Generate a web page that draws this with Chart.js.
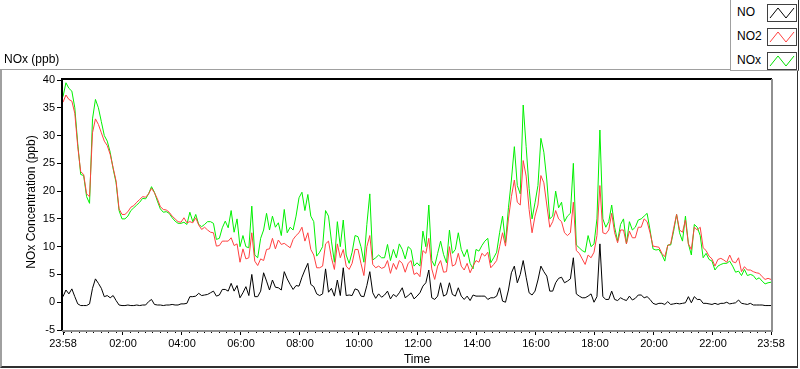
<!DOCTYPE html>
<html>
<head>
<meta charset="utf-8">
<script src="https://cdn.jsdelivr.net/npm/chart.js@4.4.1/dist/chart.umd.min.js"></script>
<style>
  body { margin: 0; background: #fff; }
  #wrap { position: relative; width: 800px; height: 369px; overflow: hidden; background: #fff;
          font-family: "Liberation Sans", Arial, sans-serif; color: #000; }
  #chart { position: absolute; left: 0; top: 0; }
  #panel { position: absolute; left: 0; top: 69px; width: 795px; height: 296px;
           border-top: 1px solid #a0a0a0; border-left: 2px solid #a0a0a0;
           border-right: 1px solid #303030; border-bottom: 2px solid #303030; }
  #legend { position: absolute; left: 730px; top: 0; width: 67px; height: 70px; background: #fff;
            border-left: 1px solid #a0a0a0; border-bottom: 1px solid #a0a0a0; border-right: 1px solid #303030; }
  .item { position: absolute; left: 0; width: 67px; height: 20px; }
  .item span { position: absolute; left: 6px; top: 3px; font-size: 12px; }
  .item svg { position: absolute; left: 36px; top: 2px; }
  #unit { position: absolute; left: 4px; top: 52px; font-size: 12px; }
  #ytitle { position: absolute; left: 31px; top: 202px; font-size: 12px; white-space: nowrap;
            transform: translate(-50%, -50%) rotate(-90deg); }
  #xtitle { position: absolute; left: 417px; top: 352px; font-size: 12px; transform: translateX(-50%); }
</style>
</head>
<body>
<div id="wrap">
  <div id="panel"></div>
  <canvas id="chart" width="800" height="369"></canvas>
  <div id="legend">
    <div class="item" style="top:2px"><span>NO</span><svg width="30" height="18"><rect x="0.5" y="0.5" width="29" height="17" fill="#fff" stroke="#404040"/><polyline points="3,14 11,4 19,14 27,4" fill="none" stroke="#000"/></svg></div>
    <div class="item" style="top:26px"><span>NO2</span><svg width="30" height="18"><rect x="0.5" y="0.5" width="29" height="17" fill="#fff" stroke="#404040"/><polyline points="3,14 11,4 19,14 27,4" fill="none" stroke="#ff4040"/></svg></div>
    <div class="item" style="top:50px"><span>NOx</span><svg width="30" height="18"><rect x="0.5" y="0.5" width="29" height="17" fill="#fff" stroke="#404040"/><polyline points="3,14 11,4 19,14 27,4" fill="none" stroke="#00e000"/></svg></div>
  </div>
  <div id="unit">NOx (ppb)</div>
  <div id="ytitle">NOx Concentration (ppb)</div>
  <div id="xtitle">Time</div>
</div>
<script>
// 6-minute samples starting at 23:58 (minute -2), one row per hour
const startMinute = -2;
const stepMinutes = 6;

const noValues = [
  1, 2.2, 1.5, 2.4, 1, -0.3, -0.6, -0.6, -0.6, -0.3,
  2.5, 4.2, 3.4, 2.5, 1, 1.2, 0.8, 1.2, 0.3, -0.5,
  -0.6, -0.6, -0.5, -0.6, -0.6, -0.5, -0.6, -0.5, -0.5, 0.1,
  0.5, -0.4, -0.5, -0.5, -0.6, -0.5, -0.5, -0.4, -0.5, -0.5,
  -0.3, -0.3, -0.2, 1, 1, 1.1, 1.6, 1.2, 1.3, 1.4,
  1.7, 2, 1.1, 1.3, 2.3, 2.3, 2, 3.4, 2, 3,
  0.8, 1.7, 2.8, 1.2, 5, 1, 1, 2, 5.3, 3.8,
  2.2, 4, 2.7, 2.6, 2.2, 5.5, 4.2, 3.2, 2.3, 3,
  2.9, 4.5, 5.8, 7, 3.2, 2.8, 1.5, 1.2, 1.5, 6,
  1.8, 2.5, 1.1, 4, 1.2, 6.2, 1.2, 1.3, 1.2, 2.4,
  2.2, 1.1, 1, 3, 5.5, 1.7, 0.7, 1.5, 0.9, 1.3,
  2, 0.6, 1.4, 1, 1.7, 2.6, 0.8, 1.2, 1.7, 0.6,
  1.1, 1.7, 2.9, 3.5, 5.8, 0.8, 0.5, 1.1, 3.5, 1.1,
  1.4, 3.5, 1.4, 1.1, 2.6, 1.1, 0.5, 1.1, 0.3, 1.3,
  1.1, 1.1, 1.1, 1.1, 0.5, 0.8, 0.8, 1.1, 2.6, 0.2,
  0, 2.2, 5.3, 6.5, 3.5, 5, 7.5, 4.5, 1.7, 1.3,
  2, 4, 6.5, 5.5, 4.7, 2, 2, 3.5, 4.3, 4.5,
  3.5, 3.8, 4.2, 8, 1.5, 1.1, 0.8, 0.8, 1.1, 1.5,
  0, 1, 10.5, 1, 0.5, 0.5, 2, 0.5, 0.3, 0.8,
  0.5, 0.3, 1.1, 0.4, 0.7, 1.3, 1.3, 0.8, 1, 0.5,
  -0.2, -0.4, -0.2, -0.2, -0.4, 0.1, -0.4, -0.3, -0.2, -0.3,
  -0.2, -0.1, 1, -0.1, 1, 0.5, 0.5, -0.2, -0.2, -0.3,
  -0.4, -0.2, -0.4, -0.2, -0.2, 0, -0.3, -0.2, -0.1, 0.4,
  -0.2, -0.3, -0.4, -0.2, -0.5, -0.5, -0.5, -0.5, -0.6, -0.6,
  -0.6
];

const no2Values = [
  36, 37.3, 36.5, 36.2, 34, 28, 23.5, 23, 19.5, 19,
  30.5, 33, 32, 30.5, 29, 28.2, 26.6, 24.2, 21.8, 16.8,
  15.8, 15.8, 16.3, 17.1, 17.4, 18, 18.5, 19, 18.9, 19.5,
  20.5, 19.7, 18.6, 17.2, 16.7, 16.6, 16.2, 15.5, 15, 14.5,
  14.4, 15.2, 14.3, 14.5, 14.3, 15.2, 13.9, 13.1, 13.5, 13,
  12.6, 12.5, 10.1, 10.2, 11, 11, 11, 11.6, 10.2, 10.5,
  7.2, 9.6, 7.8, 8, 12.5, 7.4, 6.6, 7.8, 7.5, 9.5,
  9.6, 11.5, 9.6, 11.2, 10.4, 10.6, 10.2, 9.8, 11.3, 12,
  12.5, 13.5, 11, 12.5, 9.5, 8.5, 6.2, 6.2, 6.5, 10.5,
  11, 8, 5.9, 10.5, 8, 9.5, 6.5, 5.9, 7, 9.5,
  9.5, 7, 4.8, 10, 12, 6.8, 6.2, 6.5, 6.1, 6.3,
  7.5, 5.2, 7, 5.9, 7.5, 7, 5.4, 7, 7.5, 5,
  5.3, 4.6, 9.3, 8.8, 11.5, 6, 4.1, 6.5, 7.5, 5.4,
  5.5, 10, 6.5, 6.8, 8.8, 6.5, 5.8, 7, 5.3, 6.5,
  7.5, 7.2, 8.8, 8.3, 9, 6.2, 6.8, 7.5, 10, 12.5,
  10.1, 15, 19, 22, 18, 17.5, 25.5, 22.7, 16.7, 12.5,
  15.5, 17.5, 22.8, 21.5, 17.5, 13.5, 14.5, 16.5, 15, 14.5,
  12.5, 12, 12.5, 18, 9.3, 8.8, 7.8, 6.8, 8.5, 8,
  9, 12, 21, 12.5, 12.3, 13, 16, 12.5, 10.7, 13,
  13, 10.5, 12.8, 11.6, 11.6, 13.5, 13.5, 15, 14.5, 12.5,
  10.1, 10, 9.9, 8.8, 8.2, 10.2, 10.5, 13.3, 15.8, 13,
  12.6, 14.8, 10.5, 9.5, 13.5, 13, 13.5, 9.8, 9.3, 8.3,
  7.8, 6.5, 7.7, 7.9, 7.6, 7.2, 8.5, 7.3, 7.1, 8,
  5.5, 6.4, 5.8, 5.8, 5.5, 5.3, 5.2, 4.6, 4.1, 4.3,
  4.1
];

const noxValues = [
  37, 39.5, 38.5, 38, 35, 28.5, 23, 22.8, 19, 17.8,
  33, 36.5, 35, 32.5, 30, 29, 27, 24, 21.5, 16.5,
  15, 15, 15.5, 16.5, 17, 17.5, 18, 18.7, 18.6, 19.5,
  20.8, 19.8, 18.2, 16.8, 16.2, 16.3, 16, 15.2, 14.6, 14.2,
  14.2, 14.4, 14, 16.2, 14.5, 15.8, 14, 13.6, 14, 14.5,
  14.5, 14.2, 11.3, 11.5, 13.4, 14.6, 13.4, 16.5, 12.6, 15,
  10, 12, 10, 9.8, 17.3, 8.5, 8, 11.5, 13, 16,
  13, 15.5, 13.5, 14.3, 12, 16.7, 12.5, 13.5, 13, 15.5,
  18.8, 19.8, 16.5, 19.4, 15.5, 14.5, 8.3, 9, 10, 16.5,
  15.5, 11, 7.2, 14.5, 10, 14.8, 8.5, 7, 9, 12,
  11.8, 10, 7.2, 14, 19.5, 7.6, 8, 8.5, 8, 8,
  10.4, 7.5, 9.5, 8, 10.5, 9.5, 7.8, 10, 9.5, 6.5,
  7.1, 6.5, 12.8, 10, 17.5, 7.5, 6.5, 8.8, 11, 8.6,
  7.1, 13, 8.8, 9.5, 12.5, 9.5, 8.2, 9.5, 7, 6,
  9.5, 9.2, 10.2, 11, 11.5, 7.1, 8, 9, 12.5, 15.5,
  10.7, 17, 22, 28, 21, 19.5, 35.5, 28, 20.5, 15,
  17.9, 21, 29.5, 27, 22, 15, 15.5, 20, 17, 18,
  14.5, 15.5, 16, 25, 10.3, 9.8, 9.3, 9, 12, 10,
  10.5, 15, 31, 15, 13.5, 14.5, 17.5, 13.5, 11, 14,
  15, 10.5, 14.5, 13, 13.5, 14.8, 15, 15.5, 16, 13,
  9.6, 9.4, 9.5, 8.6, 7.4, 10.3, 10.3, 12.8, 15.8, 12.5,
  11, 15.5, 10.5, 8.5, 14, 13.5, 12, 8, 8.8, 7.7,
  7.4, 5.8, 6.5, 6.8, 7, 7, 7.4, 6.5, 5.4, 5.6,
  4.8, 5.9, 4.8, 5, 4.8, 4.1, 4.4, 3.8, 3.3, 3.5,
  3.6
];

// labelled time ticks (minutes after midnight)
const majorTicks = [-2, 120, 240, 360, 480, 600, 720, 840, 960, 1080, 1200, 1320, 1438];
const yTicks = [-5, 0, 5, 10, 15, 20, 25, 30, 35, 40];

function toPoints(values) {
  return values.map((v, i) => ({ x: startMinute + i * stepMinutes, y: v }));
}

function clock(m) {
  const t = (m + 1440) % 1440;
  const h = Math.floor(t / 60), mm = t % 60;
  return String(h).padStart(2, "0") + ":" + String(mm).padStart(2, "0");
}

// plot frame and 15 minute minor ticks
const framePlugin = {
  id: "frame",
  afterDraw(chart) {
    const c = chart.ctx;
    const a = chart.chartArea;
    const xs = chart.scales.x;
    c.save();
    c.lineWidth = 1;
    c.strokeStyle = "#000";
    c.beginPath();
    for (let m = 0; m < 1440; m += 15) {
      if (m > 0 && m % 120 === 0) continue;
      const px = Math.round(xs.getPixelForValue(m)) + 0.5;
      c.moveTo(px, a.bottom);
      c.lineTo(px, a.bottom + 3);
    }
    c.stroke();
    c.lineWidth = 2;
    c.beginPath();
    c.moveTo(a.left - 1, a.bottom + 1);
    c.lineTo(a.left - 1, a.top - 1);
    c.lineTo(a.right + 1, a.top - 1);
    c.stroke();
    c.strokeStyle = "#909090";
    c.beginPath();
    c.moveTo(a.right + 1, a.top - 1);
    c.lineTo(a.right + 1, a.bottom + 1);
    c.lineTo(a.left - 1, a.bottom + 1);
    c.stroke();
    c.restore();
  },
};

const tickFont = { family: "Liberation Sans", size: 11 };

const ctx = document.getElementById("chart").getContext("2d");
new Chart(ctx, {
  type: "line",
  data: {
    datasets: [
      { label: "NO", data: toPoints(noValues), borderColor: "#000000" },
      { label: "NO2", data: toPoints(no2Values), borderColor: "#ff4040" },
      { label: "NOx", data: toPoints(noxValues), borderColor: "#00f000" },
    ],
  },
  options: {
    responsive: false,
    animation: false,
    layout: { padding: { top: 80, right: 29, left: 0, bottom: 0 } },
    elements: {
      point: { radius: 0 },
      line: { borderWidth: 1, tension: 0 },
    },
    plugins: { legend: { display: false }, tooltip: { enabled: false } },
    scales: {
      x: {
        type: "linear",
        min: -2,
        max: 1438,
        afterBuildTicks: (axis) => {
          axis.ticks = majorTicks.map((v) => ({ value: v }));
        },
        afterFit: (s) => { s.height = 39; },
        ticks: { callback: (v) => clock(v), font: tickFont, color: "#000", padding: 2, maxRotation: 0, autoSkip: false },
        grid: { drawOnChartArea: false, tickLength: 5, tickColor: "#000" },
        border: { display: false },
      },
      y: {
        min: -5,
        max: 40,
        afterBuildTicks: (axis) => {
          axis.ticks = yTicks.map((v) => ({ value: v }));
        },
        afterFit: (s) => { s.width = 63; },
        ticks: { font: tickFont, color: "#000", padding: 2 },
        grid: { drawOnChartArea: false, tickLength: 6, tickColor: "#000" },
        border: { display: false },
      },
    },
  },
  plugins: [framePlugin],
});
</script>
</body>
</html>
